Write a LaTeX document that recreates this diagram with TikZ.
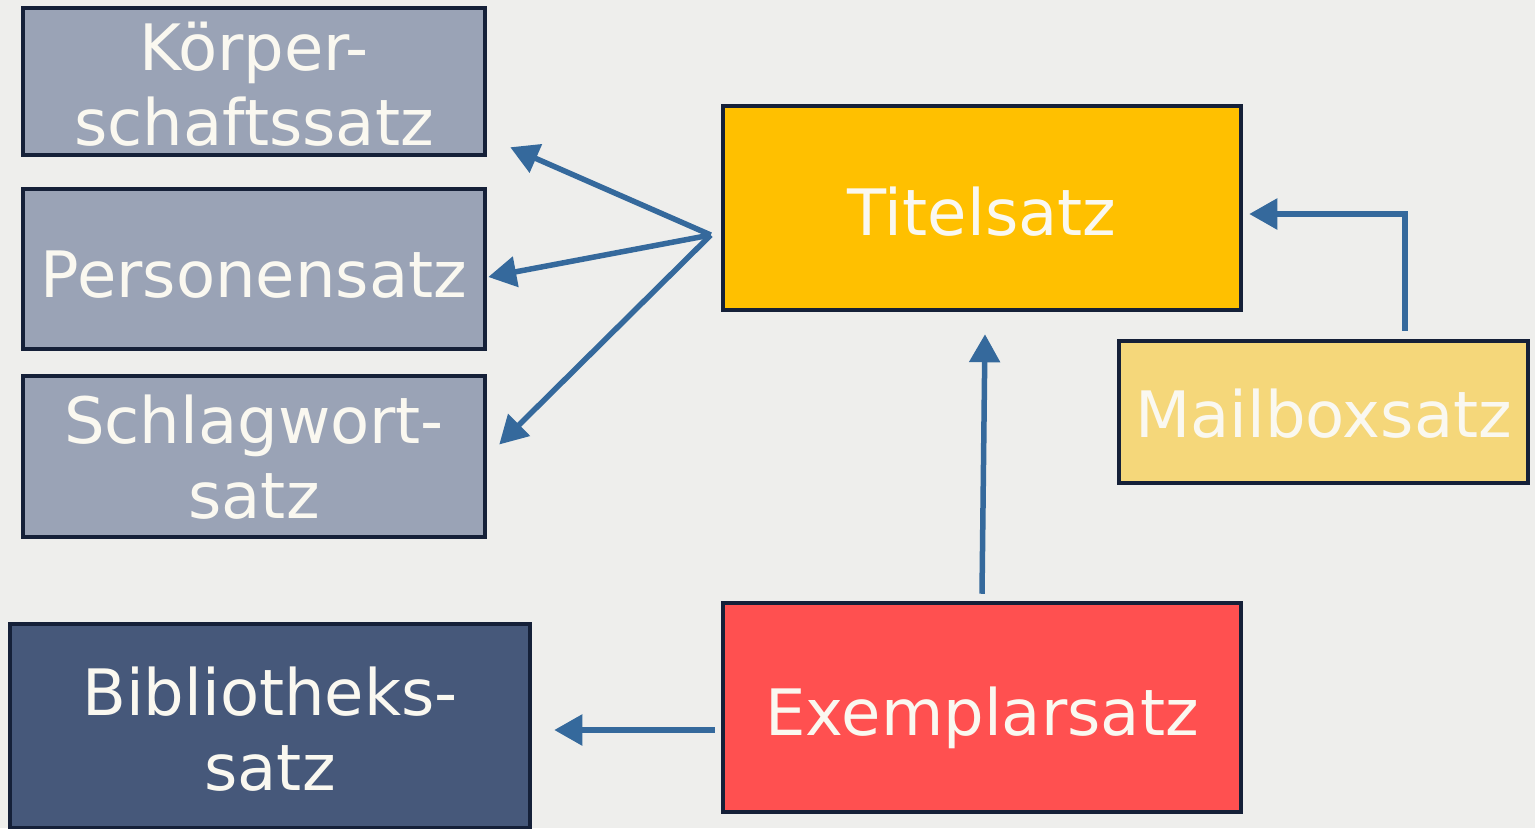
\documentclass[tikz,border=0pt]{standalone}
\usepackage{fontspec}
\setmainfont{DejaVu Sans}
\usetikzlibrary{arrows.meta,calc}
\definecolor{bgc}{HTML}{EEEEEC}
\definecolor{greyf}{HTML}{9AA3B6}
\definecolor{bordc}{HTML}{152038}
\definecolor{navyf}{HTML}{46587A}
\definecolor{yelf}{HTML}{FFC000}
\definecolor{lyelf}{HTML}{F5D77A}
\definecolor{redf}{HTML}{FF5050}
\definecolor{arrc}{HTML}{35699C}
\definecolor{txtc}{HTML}{FAF8F0}
\tikzset{
  box/.style={draw=bordc, line width=4.5pt, rectangle, inner sep=0pt},
  txt/.style={text=txtc, font=\fontsize{64}{75}\selectfont, anchor=base, inner sep=0pt},
  conn/.style={draw=arrc, line width=5.5pt, -{Triangle[length=28pt,width=30pt]}},
}
\begin{document}
\begin{tikzpicture}[x=1pt,y=-1pt]
\fill[bgc] (0,0) rectangle (1535,828);
\useasboundingbox (0,0) rectangle (1535,828);
% boxes
\node[box, fill=greyf, minimum width=462pt, minimum height=147pt] (kor) at (254,81.5) {};
\node[box, fill=greyf, minimum width=462pt, minimum height=160pt] (per) at (254,269) {};
\node[box, fill=greyf, minimum width=462pt, minimum height=161pt] (sch) at (254,456.5) {};
\node[box, fill=navyf, minimum width=520pt, minimum height=204pt] (bib) at (270,726) {};
\node[box, fill=yelf, minimum width=518pt, minimum height=204pt] (tit) at (982,208) {};
\node[box, fill=lyelf, minimum width=409pt, minimum height=142pt] (mai) at (1323.5,412) {};
\node[box, fill=redf, minimum width=518pt, minimum height=209pt] (exe) at (982,707.5) {};
% texts
\node[txt] (korA) at (254,70) {Körper-};
\node[txt] (korB) at (254,145) {schaftssatz};
\node[txt] (perA) at (254,297) {Personensatz};
\node[txt] (schA) at (254,443) {Schlagwort-};
\node[txt] (schB) at (254,518) {satz};
\node[txt] (bibA) at (270,715) {Bibliotheks-};
\node[txt] (bibB) at (270,790) {satz};
\node[txt] (titA) at (982,235) {Titelsatz};
\node[txt] (maiA) at (1323.5,437) {Mailboxsatz};
\node[txt] (exeA) at (982,735) {Exemplarsatz};
% connector end points
\coordinate (tfan) at ($(tit.west)+(-10,27)$);
\coordinate (korT) at ($(kor.south east)+(23,-10)$);
\coordinate (perT) at ($(per.east)+(1,8)$);
\coordinate (schT) at ($(sch.east)+(12,-12)$);
\coordinate (maiS) at ($(mai.north)+(81.5,-8)$);
\coordinate (titE) at ($(tit.east)+(6,6)$);
\coordinate (exeN) at ($(exe.north)+(0,-7)$);
\coordinate (titS) at ($(tit.south)+(3,22)$);
\coordinate (exeW) at ($(exe.west)+(-6,22.5)$);
\coordinate (bibE) at ($(bib.east)+(22,4)$);
% connectors
\draw[conn] (tfan) -- (korT);
\draw[conn] (tfan) -- (perT);
\draw[conn] (tfan) -- (schT);
\draw[conn] (maiS) |- (titE);
\draw[conn] (exeN) -- (titS);
\draw[conn] (exeW) -- (bibE);
\end{tikzpicture}
\end{document}
